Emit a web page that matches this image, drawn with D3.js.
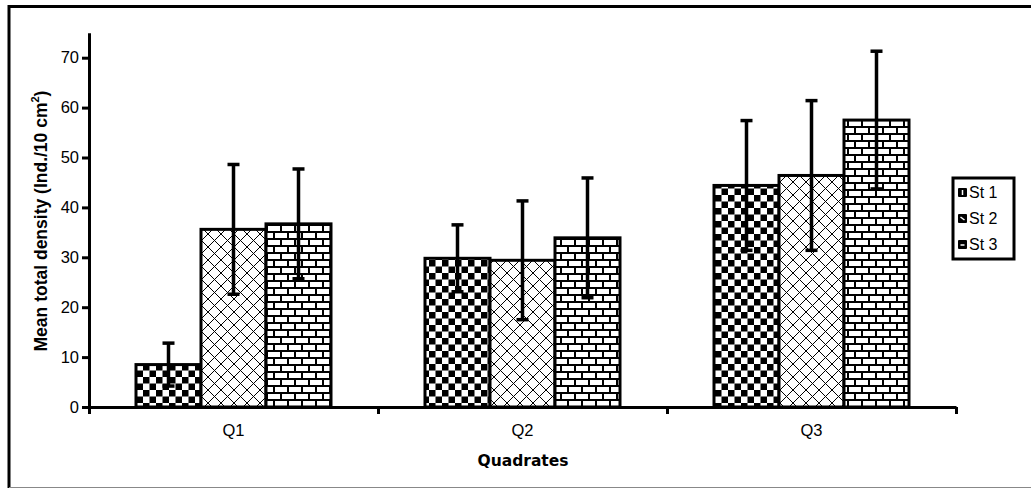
<!DOCTYPE html>
<html>
<head>
<meta charset="utf-8">
<script src="https://cdn.jsdelivr.net/npm/d3@7/dist/d3.min.js"></script>
<style>
  body { margin: 0; background: #fff; }
  svg { display: block; }
  text { font-family: "Liberation Sans", Arial, sans-serif; fill: #000; }
</style>
</head>
<body>
<svg id="chart" width="1031" height="488"></svg>
<script>
const quadrates = ['Q1', 'Q2', 'Q3'];
const stations = ['St 1', 'St 2', 'St 3'];
// mean density per station, one value per quadrate
const st1Mean = [8.5, 29.8, 44.4];
const st2Mean = [35.6, 29.4, 46.4];
const st3Mean = [36.7, 33.9, 57.5];
// standard deviation (error bars)
const st1Sd = [4.3, 6.7, 13.0];
const st2Sd = [13.0, 11.9, 15.0];
const st3Sd = [11.0, 12.0, 13.8];
const yTicks = [0, 10, 20, 30, 40, 50, 60, 70];

const means = [st1Mean, st2Mean, st3Mean];
const sds = [st1Sd, st2Sd, st3Sd];
const patterns = ['checker', 'cross', 'brick'];

const rows = [];
quadrates.forEach((q, qi) => {
  stations.forEach((s, si) => {
    rows.push({ q, s, si, mean: means[si][qi], sd: sds[si][qi] });
  });
});

const svg = d3.select('#chart');

const left = 89, right = 956, bottom = 407;

const x0 = d3.scaleBand().domain(quadrates).range([left, right]);
const x1 = d3.scaleBand().domain(stations).range([47, x0.bandwidth() - 47]);
const y = d3.scaleLinear().domain([0, 75]).range([bottom, bottom - 75 * 4.99]);

// frame
svg.append('line').attr('x1', 9).attr('x2', 1031).attr('y1', 6.5).attr('y2', 6.5)
  .attr('stroke', '#000').attr('stroke-width', 3);
svg.append('line').attr('x1', 9).attr('x2', 9).attr('y1', 5).attr('y2', 488)
  .attr('stroke', '#000').attr('stroke-width', 3);
svg.append('line').attr('x1', 9).attr('x2', 1031).attr('y1', 487.5).attr('y2', 487.5)
  .attr('stroke', '#888').attr('stroke-width', 1);

// fill patterns
const defs = svg.append('defs');

const checker = defs.append('pattern').attr('id', 'checker')
  .attr('patternUnits', 'userSpaceOnUse').attr('width', 13).attr('height', 13);
checker.append('rect').attr('width', 13).attr('height', 13).attr('fill', '#fff');
checker.append('rect').attr('width', 6.5).attr('height', 6.5).attr('fill', '#000');
checker.append('rect').attr('x', 6.5).attr('y', 6.5).attr('width', 6.5).attr('height', 6.5).attr('fill', '#000');

const cross = defs.append('pattern').attr('id', 'cross')
  .attr('patternUnits', 'userSpaceOnUse').attr('width', 13).attr('height', 13);
cross.append('rect').attr('width', 13).attr('height', 13).attr('fill', '#fff');
cross.append('path').attr('d', 'M0,0L13,13M13,0L0,13M-1,12L1,14M12,-1L14,1')
  .attr('stroke', '#000').attr('stroke-width', 1).attr('fill', 'none');

const brick = defs.append('pattern').attr('id', 'brick')
  .attr('patternUnits', 'userSpaceOnUse').attr('width', 14).attr('height', 14);
brick.append('rect').attr('width', 14).attr('height', 14).attr('fill', '#fff');
brick.append('path')
  .attr('d', 'M0,1H14M0,8H14M1,1V8M8,8V15')
  .attr('stroke', '#000').attr('stroke-width', 2).attr('fill', 'none');

// bars
const barG = svg.append('g');
barG.selectAll('rect')
  .data(rows)
  .join('rect')
  .attr('x', d => x0(d.q) + x1(d.s))
  .attr('y', d => y(d.mean))
  .attr('width', x1.bandwidth())
  .attr('height', d => y(0) - y(d.mean))
  .attr('fill', d => `url(#${patterns[d.si]})`)
  .attr('stroke', '#000')
  .attr('stroke-width', 3);

// error bars
const errG = svg.append('g').attr('stroke', '#000').attr('stroke-width', 3.5);
const cx = d => x0(d.q) + x1(d.s) + x1.bandwidth() / 2;
errG.selectAll('line.v')
  .data(rows)
  .join('line')
  .attr('class', 'v')
  .attr('x1', cx).attr('x2', cx)
  .attr('y1', d => y(d.mean - d.sd))
  .attr('y2', d => y(d.mean + d.sd));
errG.selectAll('line.cap-top')
  .data(rows)
  .join('line')
  .attr('class', 'cap-top')
  .attr('x1', d => cx(d) - 6).attr('x2', d => cx(d) + 6)
  .attr('y1', d => y(d.mean + d.sd)).attr('y2', d => y(d.mean + d.sd));
errG.selectAll('line.cap-bot')
  .data(rows)
  .join('line')
  .attr('class', 'cap-bot')
  .attr('x1', d => cx(d) - 6).attr('x2', d => cx(d) + 6)
  .attr('y1', d => y(d.mean - d.sd)).attr('y2', d => y(d.mean - d.sd));

// y axis
const yAxis = svg.append('g')
  .attr('transform', `translate(${left},0)`)
  .call(d3.axisLeft(y).tickValues(yTicks).tickSize(7).tickSizeOuter(0).tickPadding(3));
yAxis.select('.domain').attr('stroke-width', 3);
yAxis.selectAll('.tick line').attr('stroke-width', 3);
yAxis.selectAll('.tick text')
  .style('font-family', '"Liberation Sans", Arial, sans-serif')
  .style('font-size', '16.5px')
  .attr('fill', '#000');

// x axis: boundary ticks only
const xb = d3.scaleLinear().domain([0, quadrates.length]).range([left, right]);
const xAxis = svg.append('g')
  .attr('transform', `translate(0,${bottom})`)
  .call(d3.axisBottom(xb).tickValues(d3.range(quadrates.length + 1)).tickSize(7).tickSizeOuter(0).tickFormat(''));
xAxis.select('.domain').attr('stroke-width', 3);
xAxis.selectAll('.tick line').attr('stroke-width', 3);

svg.append('g').selectAll('text')
  .data(quadrates)
  .join('text')
  .attr('x', d => x0(d) + x0.bandwidth() / 2)
  .attr('y', 436)
  .attr('text-anchor', 'middle')
  .style('font-size', '16.5px')
  .text(d => d);

// axis titles
svg.append('text')
  .attr('x', (left + right) / 2 + 0.5)
  .attr('y', 466)
  .attr('text-anchor', 'middle')
  .style('font-family', '"DejaVu Sans", Verdana, sans-serif')
  .style('font-weight', 'bold')
  .style('font-size', '15.5px')
  .text('Quadrates');

const yTitle = svg.append('text')
  .attr('transform', 'translate(47,221) rotate(-90)')
  .attr('text-anchor', 'middle')
  .style('font-weight', 'bold')
  .style('font-size', '17.5px');
yTitle.append('tspan').text('Mean total density (Ind./10 cm');
yTitle.append('tspan').attr('dy', -8).style('font-size', '11px').text('2');
yTitle.append('tspan').attr('dy', 8).text(')');

// legend
const legend = svg.append('g');
legend.append('rect')
  .attr('x', 953).attr('y', 178).attr('width', 61).attr('height', 81)
  .attr('fill', '#fff').attr('stroke', '#000').attr('stroke-width', 3);
const items = legend.selectAll('g.item')
  .data(stations)
  .join('g')
  .attr('class', 'item')
  .attr('transform', (d, i) => `translate(958,${198 + i * 26})`);
items.append('rect')
  .attr('x', 0).attr('y', -10).attr('width', 9).attr('height', 9)
  .attr('rx', 1)
  .attr('fill', '#000');
// small white glyph inside each swatch, hinting at the fill pattern
const swatchMarks = ['M4.5,-8V-3', 'M2.5,-7L6.5,-4', 'M2.5,-5H6.5'];
items.append('path')
  .attr('d', (d, i) => swatchMarks[i])
  .attr('stroke', '#fff').attr('stroke-width', 1.5).attr('fill', 'none');
items.append('text')
  .attr('x', 11).attr('y', 0)
  .style('font-size', '16px')
  .text(d => d);
</script>
</body>
</html>
